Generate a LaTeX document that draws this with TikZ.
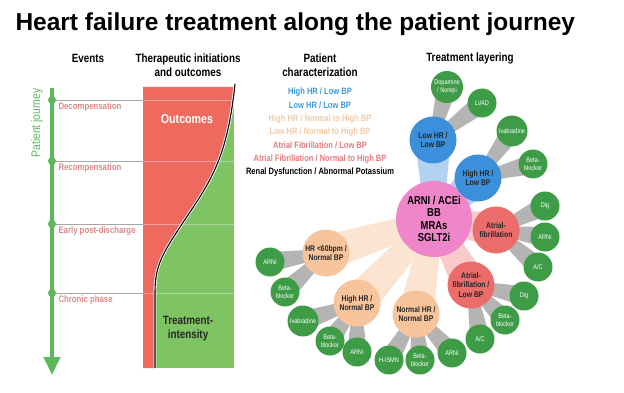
\documentclass[tikz,border=0pt]{standalone}
\usepackage{fontspec}
\setmainfont{Liberation Sans}
\newfontfamily\cond[FakeStretch=0.82]{Liberation Sans}
\usetikzlibrary{calc,backgrounds,arrows.meta}

\definecolor{axisgreen}{HTML}{5DB85C}
\definecolor{chartred}{HTML}{EE6A5E}
\definecolor{chartgreen}{HTML}{7EC463}
\definecolor{eventpink}{HTML}{D98A86}
\definecolor{hfblue}{HTML}{3B8FDB}
\definecolor{bluetext}{HTML}{3A9AD6}
\definecolor{peach}{HTML}{F8C49C}
\definecolor{peachtext}{HTML}{F3C9A6}
\definecolor{afred}{HTML}{EC6C6C}
\definecolor{afredtext}{HTML}{E07B7B}
\definecolor{hubpink}{HTML}{EF86C9}
\definecolor{leafgreen}{HTML}{3E9C47}
\definecolor{stalkgray}{HTML}{B4B4B4}

\tikzset{
  title/.style={font=\fontsize{24.5}{28}\selectfont\bfseries, anchor=base west},
  header/.style={font=\cond\fontsize{12}{14}\selectfont\bfseries, align=center},
  event/.style={font=\cond\fontsize{9.5}{11}\selectfont\bfseries, text=eventpink, anchor=west},
  charline/.style={font=\cond\fontsize{9.2}{10}\selectfont\bfseries},
  hub/.style={circle, fill=hubpink, minimum size=76pt, inner sep=0, align=center,
    font=\cond\fontsize{11.5}{12.5}\selectfont\bfseries},
  midnode/.style={circle, minimum size=47pt, inner sep=0, align=center,
    font=\cond\fontsize{8.3}{9.5}\selectfont\bfseries, text=black!85},
  leaf/.style={circle, fill=leafgreen, minimum size=29pt, inner sep=0, align=center,
    text=white, font=\cond\fontsize{6.8}{7.8}\selectfont},
  gridline/.style={gray!70, line width=0.8pt},
  dot/.style={circle, fill=axisgreen, inner sep=0, minimum size=8pt}
}

% tapered stalk: from, to, colour, half width at start, half width at end
\newcommand{\hfstalk}[5]{%
  \fill[#3] let \p1=($(#2.center)-(#1.center)$), \n1={atan2(\y1,\x1)} in
    ($(#1.center)+(\n1+90:#4)$) -- ($(#2.center)+(\n1+90:#5)$) --
    ($(#2.center)+(\n1-90:#5)$) -- ($(#1.center)+(\n1-90:#4)$) -- cycle;}

\begin{document}
\begin{tikzpicture}[x=1pt,y=-1pt]
\useasboundingbox (0,0) rectangle (624,393);

\node[title] (ttl) at (12,31) {Heart failure treatment along the patient journey};

% column headers
\node[header] (hevents) at (88,58) {Events};
\node[header] (htherapy) at (188,65) {Therapeutic initiations\\and outcomes};
\node[header] (hpatient) at (320,65) {Patient\\characterization};
\node[header] (hlayer) at (470,58) {Treatment layering};

% journey axis
\draw[axisgreen, line width=4pt, -{Triangle[length=18pt,width=16pt]}] (52,88) -- (52,375);
\node[rotate=90, font=\cond\fontsize{12.5}{14}\selectfont, text=axisgreen] (journey) at (37,123) {Patient journey};

\foreach \yy/\name/\lab in {100/decomp/Decompensation, 161/recomp/Recompensation,
    224/early/Early post-discharge, 293/chronic/Chronic phase} {
  \draw[gridline] (52,\yy) -- (143,\yy);
  \node[dot] (d\name) at (52,\yy) {};
  \node[event] (e\name) at (55,\yy+7.5) {\lab};
}

% therapy / outcome chart
\fill[chartgreen] (143,87) rectangle (234,368);
\fill[chartred] (143,87) -- (234,87) .. controls (228,150) and (215,175) .. (190,212)
  .. controls (165,250) and (155,262) .. (155,292) -- (155,368) -- (143,368) -- cycle;
\foreach \yy in {100,161,224,293}
  \draw[white, opacity=.35, line width=0.6pt] (143,\yy) -- (234,\yy);
\draw[white, line width=2.8pt] (235,84) .. controls (228,150) and (215,175) .. (190,212)
  .. controls (165,250) and (155,262) .. (155,292) -- (155,368);
\draw[black, line width=1.1pt] (235,84) .. controls (228,150) and (215,175) .. (190,212)
  .. controls (165,250) and (155,262) .. (155,292) -- (155,368);
\node[header, text=white, font=\cond\fontsize{13}{14}\selectfont\bfseries] (outc) at (187,119) {Outcomes};
\node[header, text=black!85] (tint) at (188,329) {Treatment-\\intensity};

% patient characterization
\node[charline, text=bluetext] (c1) at (320,92) {High HR / Low BP};
\node[charline, text=bluetext] (c2) at (320,105.5) {Low HR / Low BP};
\node[charline, text=peachtext] (c3) at (320,119) {High HR / Normal to High BP};
\node[charline, text=peachtext] (c4) at (320,132) {Low HR / Normal to High BP};
\node[charline, text=afredtext] (c5) at (320,145.5) {Atrial Fibrillation / Low BP};
\node[charline, text=afredtext] (c6) at (320,159) {Atrial Fibrillation / Normal to High BP};
\node[charline, text=black] (c7) at (320,172.5) {Renal Dysfunction / Abnormal Potassium};

% treatment layering
\node[hub] (hub) at (434,219) {ARNI / ACEi\\BB\\MRAs\\SGLT2i};

\node[midnode, fill=hfblue] (lowlow) at (433,140) {Low HR /\\Low BP};
\node[midnode, fill=hfblue] (highlow) at (478,178) {High HR /\\Low BP};
\node[midnode, fill=afred] (af) at (496,230) {Atrial-\\fibrillation};
\node[midnode, fill=afred] (aflow) at (471,285) {Atrial-\\fibrillation /\\Low BP};
\node[midnode, fill=peach] (normnorm) at (416,314) {Normal HR /\\Normal BP};
\node[midnode, fill=peach] (highnorm) at (357,303) {High HR /\\Normal BP};
\node[midnode, fill=peach] (slownorm) at (326,253) {HR <60bpm /\\Normal BP};

\node[leaf, minimum size=32pt] (dopa) at (447,87) {Dopamine\\/ Norepi};
\node[leaf] (lvad) at (482,103) {LVAD};
\node[leaf, minimum size=31pt] (ivab1) at (512,131) {Ivabradine};
\node[leaf] (beta1) at (533,164) {Beta-\\blocker};
\node[leaf] (dig1) at (545,206) {Dig};
\node[leaf] (arni1) at (545,237) {ARNi};
\node[leaf] (ac1) at (538,267) {A/C};
\node[leaf] (dig2) at (524,296) {Dig};
\node[leaf] (beta2) at (505,320) {Beta-\\blocker};
\node[leaf] (ac2) at (480,339) {A/C};
\node[leaf] (arni2) at (452,353) {ARNi};
\node[leaf] (beta3) at (420,360) {Beta-\\blocker};
\node[leaf] (hismn) at (389,360) {H-ISMN};
\node[leaf] (arni3) at (357,352) {ARNi};
\node[leaf] (beta4) at (330,341) {Beta-\\blocker};
\node[leaf, minimum size=31pt] (ivab2) at (303,321) {Ivabradine};
\node[leaf] (beta5) at (285,292) {Beta-\\blocker};
\node[leaf] (arni4) at (270,262) {ARNi};

\begin{scope}[on background layer]
  \hfstalk{hub}{lowlow}{hfblue!40}{9pt}{18pt}
  \hfstalk{hub}{highlow}{hfblue!40}{9pt}{18pt}
  \hfstalk{hub}{af}{afred!35}{9pt}{18pt}
  \hfstalk{hub}{aflow}{afred!35}{9pt}{18pt}
  \hfstalk{hub}{normnorm}{peach!45}{9pt}{18pt}
  \hfstalk{hub}{highnorm}{peach!45}{9pt}{18pt}
  \hfstalk{hub}{slownorm}{peach!45}{9pt}{18pt}
  \foreach \mum/\kid in {lowlow/dopa, lowlow/lvad, highlow/ivab1, highlow/beta1,
      af/dig1, af/arni1, af/ac1, aflow/dig2, aflow/beta2, aflow/ac2,
      normnorm/arni2, normnorm/beta3, normnorm/hismn,
      highnorm/arni3, highnorm/beta4, highnorm/ivab2,
      slownorm/beta5, slownorm/arni4}
    {\hfstalk{\mum}{\kid}{stalkgray}{4pt}{10pt}}
\end{scope}
\end{tikzpicture}
\end{document}
